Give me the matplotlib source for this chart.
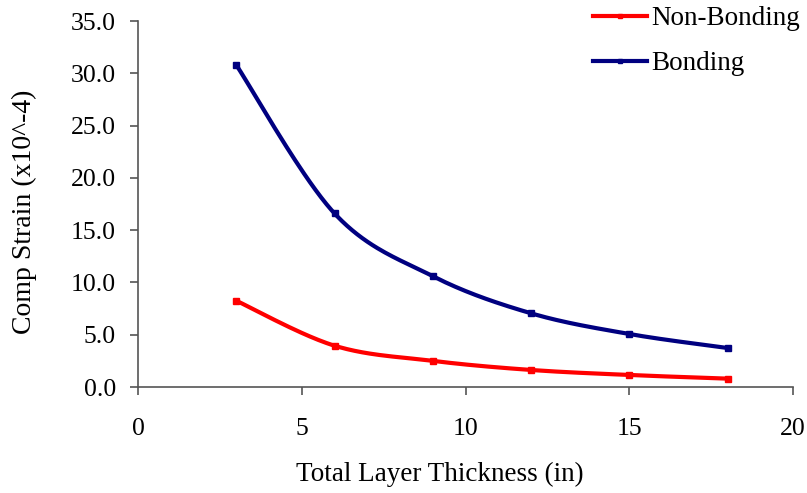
import numpy as np
import matplotlib
matplotlib.use("Agg")
import matplotlib.pyplot as plt
from matplotlib.lines import Line2D

# data
thickness = [3, 6, 9, 12, 15, 18]
non_bonding = [8.25, 3.95, 2.5, 1.63, 1.15, 0.8]
bonding = [30.8, 16.6, 10.6, 7.05, 5.07, 3.73]

plt.rcParams["font.family"] = ["Liberation Serif", "DejaVu Serif"]


def smooth(xs, ys, n=40):
    # Excel-like smoothed line (Catmull-Rom through the points)
    p = np.column_stack([xs, ys]).astype(float)
    p = np.vstack([p[0], p, p[-1]])
    out = []
    for i in range(1, len(p) - 2):
        p0, p1, p2, p3 = p[i - 1], p[i], p[i + 1], p[i + 2]
        c1 = p1 + (p2 - p0) / 6
        c2 = p2 - (p3 - p1) / 6
        t = np.linspace(0, 1, n)[:, None]
        seg = ((1 - t) ** 3) * p1 + 3 * ((1 - t) ** 2) * t * c1 \
            + 3 * (1 - t) * t ** 2 * c2 + t ** 3 * p2
        out.append(seg if i == 1 else seg[1:])
    out = np.vstack(out)
    return out[:, 0], out[:, 1]


fig = plt.figure(figsize=(8.07, 4.93), dpi=100)
ax = fig.add_axes([138 / 807, 1 - 387 / 493, (793 - 138) / 807, (387 - 21) / 493])

series = [("Non-Bonding", non_bonding, "#ff0000"), ("Bonding", bonding, "#000080")]
handles = []
for name, vals, col in series:
    sx, sy = smooth(thickness, vals)
    ax.plot(sx, sy, color=col, lw=3, solid_capstyle="butt", clip_on=False)
    ax.plot(thickness, vals, ls="none", marker="s", ms=5, color=col, clip_on=False)
    handles.append(Line2D([], [], color=col, lw=3, marker="s", ms=3))

ax.set_xlim(0, 20)
ax.set_ylim(0, 35)
ax.set_xticks([0, 5, 10, 15, 20])
ax.set_yticks(np.arange(0, 35.1, 5))
ax.set_yticklabels([f"{v:.1f}" for v in np.arange(0, 35.1, 5)])

for s in ["top", "right"]:
    ax.spines[s].set_visible(False)
for s in ["left", "bottom"]:
    ax.spines[s].set_color("#555555")
    ax.spines[s].set_linewidth(1.2)
ax.tick_params(axis="both", colors="#555555", labelcolor="black",
               labelsize=18.5, length=6, width=1.2, direction="out")
ax.tick_params(axis="y", pad=10)
ax.tick_params(axis="x", pad=16)

ax.set_xlabel("Total Layer Thickness (in)", fontsize=19.5)
ax.xaxis.set_label_coords(0.461, -0.238, transform=ax.transAxes)
ax.xaxis.label.set_va("center")
ax.set_ylabel("Comp Strain (x10^-4)", fontsize=20)
ax.yaxis.set_label_coords(-0.173, 0.478, transform=ax.transAxes)
ax.yaxis.label.set_va("center")

fig.legend(handles, [s[0] for s in series], loc="upper left",
           bbox_to_anchor=(593 / 807, 1 - 6 / 493), frameon=False,
           fontsize=19.5, handlelength=2.0, handletextpad=0.15,
           labelspacing=0.75, borderpad=0, borderaxespad=0)

fig.savefig("out.png", dpi=100)
